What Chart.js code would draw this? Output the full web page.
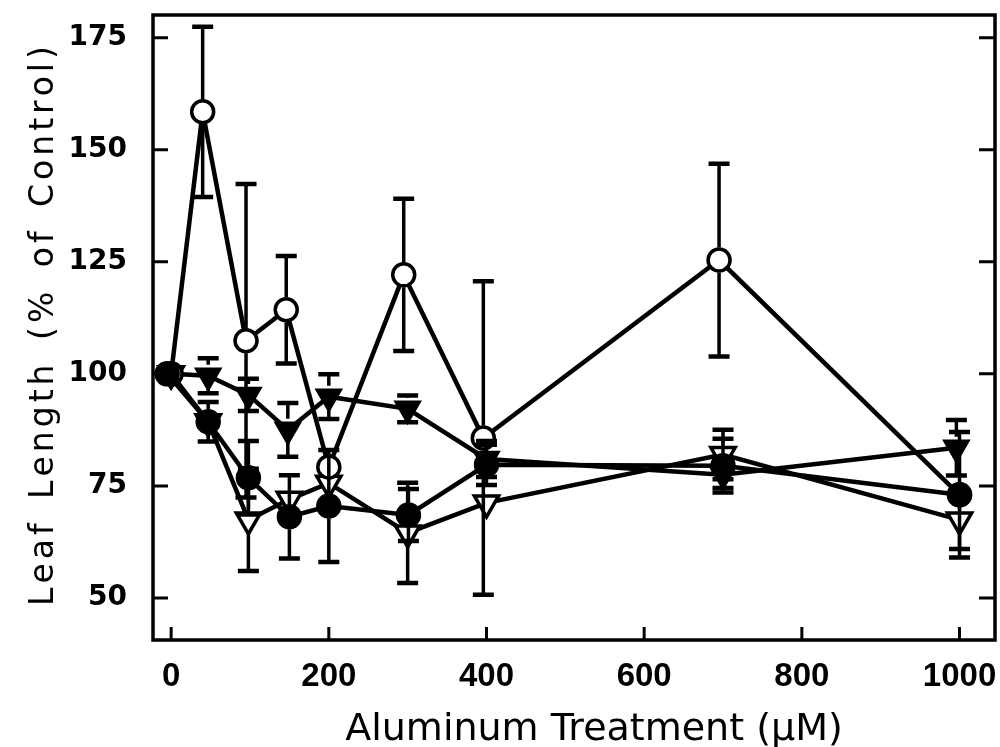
<!DOCTYPE html>
<html>
<head>
<meta charset="utf-8">
<script src="https://cdn.jsdelivr.net/npm/chart.js@4.4.1/dist/chart.umd.min.js"></script>
<style>
html,body{margin:0;padding:0;background:#fff;}
#wrap{width:1000px;height:747px;position:relative;}
</style>
</head>
<body>
<div id="wrap"><canvas id="c" width="1000" height="747"></canvas></div>
<script>
// ---- data ----
const xTicks = [0, 200, 400, 600, 800, 1000];
const yTicks = [50, 75, 100, 125, 150, 175];

// open circles
const openCircleX   = [0, 40, 95, 146, 200, 295, 396, 695, 1000];
const openCircleY   = [100, 158.5, 107.4, 114.3, 79.2, 122.1, 85.7, 125.4, 73];
const openCircleErr = [0, 19, 35, 12, 0, 17, 35, 21.5, 0];

// filled circles
const filledCircleX   = [-5, 47, 98, 150, 200, 301, 400, 700, 1000];
const filledCircleY   = [100, 89.3, 76.8, 68.1, 70.5, 68.5, 79.7, 79.5, 73];
const filledCircleErr = [0, 4.4, 8.2, 9.3, 12.5, 5.8, 4.5, 6, 14];

// filled (down) triangles
const filledTriX   = [0, 47, 98, 148, 200, 300, 400, 700, 996];
const filledTriY   = [100, 99.6, 95.3, 87.5, 94.9, 92.2, 81, 77.5, 83.5];
const filledTriErr = [0, 3.9, 3.6, 6, 5, 3, 4, 3, 6.2];

// open (down) triangles
const openTriX   = [0, 47, 98, 150, 200, 300, 400, 700, 1000];
const openTriY   = [100, 89.3, 67.4, 72, 75.6, 64.5, 71.2, 82, 67.4];
const openTriErr = [0, 0, 11.4, 0, 0, 11.2, 0, 5.5, 6.5];

const xTitle = 'Aluminum Treatment (\u00B5M)';
const yTitle = 'Leaf Length (% of Control)';

function pts(xs, ys){ return xs.map((x,i)=>({x:x, y:ys[i]})); }

const frameAndTicks = {
  id: 'frameAndTicks',
  afterDatasetsDraw(chart){
    const {ctx, chartArea:a, scales:{x, y}} = chart;
    ctx.save();
    ctx.strokeStyle = '#000';
    ctx.lineWidth = 3.5;
    ctx.lineCap = 'butt';
    ctx.strokeRect(a.left, a.top, a.right - a.left, a.bottom - a.top);
    ctx.lineWidth = 3;
    yTicks.forEach(v=>{
      const py = y.getPixelForValue(v);
      ctx.beginPath();
      ctx.moveTo(a.left, py); ctx.lineTo(a.left + 15, py);
      ctx.moveTo(a.right, py); ctx.lineTo(a.right - 16, py);
      ctx.stroke();
    });
    xTicks.forEach(v=>{
      const px = x.getPixelForValue(v);
      ctx.beginPath();
      ctx.moveTo(px, a.bottom); ctx.lineTo(px, a.bottom - 13);
      ctx.stroke();
    });
    ctx.restore();
  }
};

const errorBars = {
  id: 'errorBars',
  afterDatasetsDraw(chart){
    const {ctx, scales:{y}} = chart;
    ctx.save();
    ctx.strokeStyle = '#000';
    chart.data.datasets.forEach((ds, i)=>{
      const meta = chart.getDatasetMeta(i);
      const errs = ds.errors || [];
      const rm = ds.markerHalf || 12;
      meta.data.forEach((el, j)=>{
        const e = errs[j];
        if (!e) return;
        const v = ds.data[j].y;
        const px = el.x, pc = el.y;
        const pTop = y.getPixelForValue(v + e);
        const pBot = y.getPixelForValue(v - e);
        ctx.lineWidth = 3.5;
        ctx.beginPath();
        if (pTop < pc - rm) { ctx.moveTo(px, pc - rm); ctx.lineTo(px, pTop); }
        if (pBot > pc + rm) { ctx.moveTo(px, pc + rm); ctx.lineTo(px, pBot); }
        ctx.stroke();
        ctx.lineWidth = 4.5;
        ctx.beginPath();
        ctx.moveTo(px - 10.5, pTop); ctx.lineTo(px + 10.5, pTop);
        ctx.moveTo(px - 10.5, pBot); ctx.lineTo(px + 10.5, pBot);
        ctx.stroke();
      });
    });
    ctx.restore();
  }
};

const axisTitles = {
  id: 'axisTitles',
  afterDraw(chart){
    const ctx = chart.ctx;
    ctx.save();
    ctx.fillStyle = '#000';
    // x title
    ctx.font = '38px "DejaVu Sans"';
    ctx.textAlign = 'center';
    ctx.textBaseline = 'alphabetic';
    ctx.fillText(xTitle, 594, 740);
    // y title, rotated with extra letter spacing
    ctx.font = '33px "DejaVu Sans"';
    ctx.textAlign = 'left';
    const sp = 4;
    const chars = Array.from(yTitle);
    const widths = chars.map(c=>ctx.measureText(c).width + (c === ' ' ? 6 : 0));
    const total = widths.reduce((s,w)=>s+w,0) + sp*(chars.length-1);
    ctx.translate(53, 326);
    ctx.rotate(-Math.PI/2);
    let cx = -total/2;
    chars.forEach((c,k)=>{ ctx.fillText(c, cx, 0); cx += widths[k] + sp; });
    ctx.restore();
  }
};

const common = { showLine: true, borderColor: '#000', borderWidth: 4.5, pointBorderColor: '#000', pointHoverRadius: 0, clip: false };

new Chart(document.getElementById('c'), {
  type: 'scatter',
  data: {
    datasets: [
      Object.assign({}, common, {
        label: 'filled circles', data: pts(filledCircleX, filledCircleY), errors: filledCircleErr,
        pointStyle: 'circle', pointRadius: 12, pointBorderWidth: 1.5, pointBackgroundColor: '#000', markerHalf: 12.5
      }),
      Object.assign({}, common, {
        label: 'open circles', data: pts(openCircleX, openCircleY), errors: openCircleErr,
        pointStyle: 'circle', pointRadius: 11, pointBorderWidth: 3.5, pointBackgroundColor: '#fff', markerHalf: 12.5
      }),
      Object.assign({}, common, {
        label: 'filled triangles', data: pts(filledTriX, filledTriY), errors: filledTriErr,
        pointStyle: 'triangle', pointRotation: 180, pointRadius: 14.5, pointBorderWidth: 2, pointBackgroundColor: '#000', markerHalf: 11
      }),
      Object.assign({}, common, {
        label: 'open triangles', data: pts(openTriX, openTriY), errors: openTriErr,
        pointStyle: 'triangle', pointRotation: 180, pointRadius: 14, pointBorderWidth: 3.5, pointBackgroundColor: '#fff', markerHalf: 11
      })
    ]
  },
  options: {
    responsive: false,
    animation: false,
    devicePixelRatio: 1,
    layout: { autoPadding: false, padding: { top: 15, right: 5, left: 0, bottom: 0 } },
    plugins: { legend: { display: false }, tooltip: { enabled: false } },
    scales: {
      x: {
        type: 'linear', min: -23, max: 1045,
        afterBuildTicks: s => { s.ticks = xTicks.map(v=>({value:v})); },
        afterFit: s => { s.height = 107; s.paddingLeft = 0; s.paddingRight = 0; },
        grid: { display: false, drawTicks: false },
        border: { display: false },
        ticks: { color: '#000', padding: 17, maxRotation: 0, autoSkip: false,
                 callback: v => String(v),
                 font: { family: '"Liberation Sans", Arial, sans-serif', size: 33, weight: 'bold' } }
      },
      y: {
        type: 'linear', min: 40.6, max: 180.1,
        afterBuildTicks: s => { s.ticks = yTicks.map(v=>({value:v})); },
        afterFit: s => { s.width = 153; s.paddingTop = 0; s.paddingBottom = 0; },
        grid: { display: false, drawTicks: false },
        border: { display: false },
        ticks: { color: '#000', padding: 26,
                 font: { family: '"DejaVu Sans", sans-serif', size: 28, weight: 'bold' } }
      }
    }
  },
  plugins: [errorBars, frameAndTicks, axisTitles]
});
</script>
</body>
</html>
